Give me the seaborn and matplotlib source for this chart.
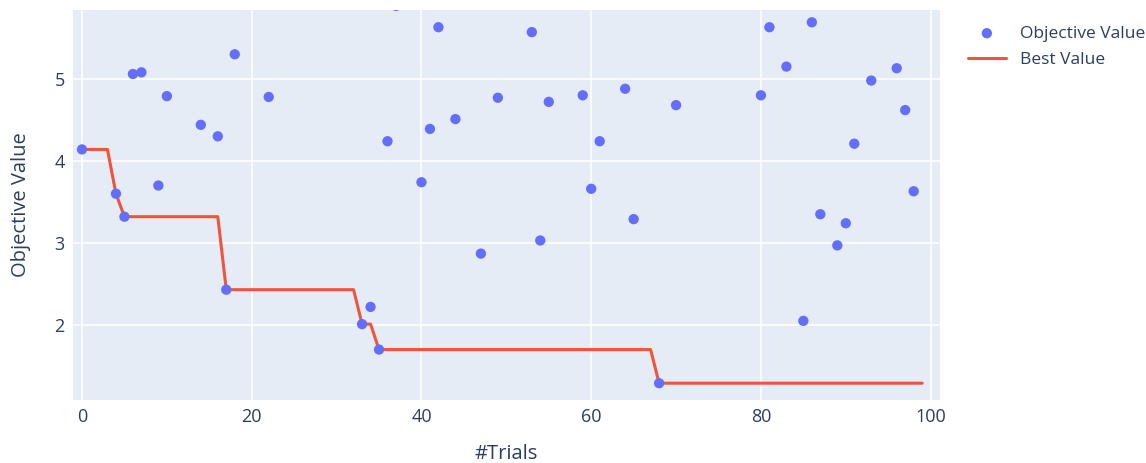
import pandas as pd
import matplotlib.pyplot as plt
import seaborn as sns

# Trials visible in the chart (the others lie above the y range)
trials = [0, 4, 5, 6, 7, 9, 10, 14, 16, 17, 18, 22, 33, 34, 35, 36, 37,
          40, 41, 42, 44, 47, 49, 53, 54, 55, 59, 60, 61, 64, 65, 68, 70,
          80, 81, 83, 85, 86, 87, 89, 90, 91, 93, 96, 97, 98]
objective = [4.14, 3.60, 3.32, 5.06, 5.08, 3.70, 4.79, 4.44, 4.30, 2.43, 5.30, 4.78,
             2.01, 2.22, 1.70, 4.24, 5.89, 3.74, 4.39, 5.63, 4.51, 2.87, 4.77, 5.57,
             3.03, 4.72, 4.80, 3.66, 4.24, 4.88, 3.29, 1.29, 4.68, 4.80, 5.63, 5.15,
             2.05, 5.69, 3.35, 2.97, 3.24, 4.21, 4.98, 5.13, 4.62, 3.63]
n_trials = 100

df = pd.DataFrame({'trial': trials, 'value': objective})
best = (df.set_index('trial')['value'].cummin()
        .reindex(range(n_trials)).ffill().reset_index())
best.columns = ['trial', 'best']

text_color = '#2a3f5f'
sns.set_style('darkgrid', {'axes.facecolor': '#E5ECF6', 'grid.color': 'white'})
plt.rcParams['font.family'] = ['Open Sans', 'DejaVu Sans']

fig = plt.figure(figsize=(11.46, 4.63), dpi=100)
ax = fig.add_axes([73 / 1146, 63 / 463, 867 / 1146, 390 / 463])

sns.scatterplot(data=df, x='trial', y='value', ax=ax, color='#636EFA', s=55,
                edgecolor='none', label='Objective Value', zorder=3)
sns.lineplot(data=best, x='trial', y='best', ax=ax, color='#EF553B', linewidth=2.2,
             label='Best Value', zorder=2)

ax.set_xlim(-1.06, 101.1)
ax.set_ylim(1.085, 5.84)
ax.set_xticks([0, 20, 40, 60, 80, 100])
ax.set_yticks([2, 3, 4, 5])
ax.grid(True, color='white', linewidth=1.1)
for s in ax.spines.values():
    s.set_visible(False)
ax.tick_params(length=0, labelsize=13, colors=text_color, pad=6)

ax.set_xlabel('#Trials', fontsize=14.5, color=text_color, labelpad=13)
ax.set_ylabel('Objective Value', fontsize=14.5, color=text_color, labelpad=17)

leg = ax.legend(loc='upper left', bbox_to_anchor=(1.014, 1.0), frameon=False,
                fontsize=12.5, handlelength=2.2, labelspacing=0.6)
for t in leg.get_texts():
    t.set_color(text_color)

fig.savefig('out.png', dpi=100)
